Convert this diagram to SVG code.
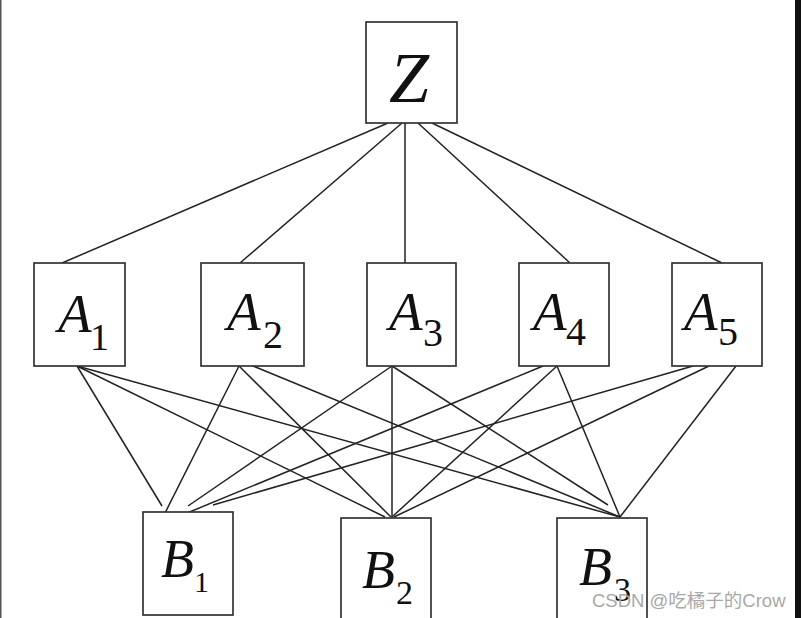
<svg xmlns="http://www.w3.org/2000/svg" width="801" height="618" viewBox="0 0 801 618">
<style>
.box{fill:#fff;stroke:#333;stroke-width:1.7}
.lbl{font-family:"Liberation Serif","Times New Roman",serif;font-style:italic;fill:#111}
.sub{font-family:"Liberation Serif","Times New Roman",serif;font-style:normal;fill:#111}
.c line{stroke:#222;stroke-width:1.5}
.wm{font-family:"Liberation Sans","Noto Sans CJK SC",sans-serif;font-size:18.5px;fill:#a8a8a8}
</style>
<rect x="0" y="0" width="801" height="618" fill="#fff"/>
<rect x="0" y="0" width="1.5" height="618" fill="#555"/>
<rect x="795" y="0" width="6" height="618" fill="#111"/>
<g id="connectors" class="c">
<line x1="388" y1="123" x2="62" y2="263"/>
<line x1="402" y1="123" x2="240" y2="263"/>
<line x1="405" y1="123" x2="405" y2="263"/>
<line x1="418" y1="123" x2="570" y2="263"/>
<line x1="432" y1="123" x2="722" y2="263"/>
<line x1="77" y1="366" x2="162" y2="506"/>
<line x1="239" y1="366" x2="163" y2="517"/>
<line x1="392" y1="366" x2="188" y2="506"/>
<line x1="543" y1="366" x2="175" y2="518"/>
<line x1="693" y1="366" x2="213" y2="505"/>
<line x1="77" y1="366" x2="385" y2="517"/>
<line x1="239" y1="366" x2="391" y2="517"/>
<line x1="392" y1="366" x2="392" y2="517"/>
<line x1="557" y1="366" x2="392" y2="517"/>
<line x1="709" y1="366" x2="394" y2="517"/>
<line x1="77" y1="366" x2="620" y2="517"/>
<line x1="253" y1="366" x2="620" y2="517"/>
<line x1="392" y1="366" x2="608" y2="505"/>
<line x1="557" y1="366" x2="620" y2="517"/>
<line x1="736" y1="366" x2="620" y2="517"/>
</g>
<g id="Z"><rect class="box" x="366" y="22" width="91" height="101"/><text class="lbl" x="389" y="102" font-size="72">Z</text></g>
<g id="A1"><rect class="box" x="34" y="263" width="91" height="103"/><text class="lbl" x="58" y="332" font-size="55">A</text><text class="sub" x="90" y="350" font-size="38">1</text></g>
<g id="A2"><rect class="box" x="201" y="263" width="103" height="103"/><text class="lbl" x="227" y="330" font-size="55">A</text><text class="sub" x="263" y="348" font-size="40">2</text></g>
<g id="A3"><rect class="box" x="367" y="263" width="89" height="103"/><text class="lbl" x="389" y="330" font-size="55">A</text><text class="sub" x="423" y="346" font-size="40">3</text></g>
<g id="A4"><rect class="box" x="519" y="263" width="90" height="103"/><text class="lbl" x="533" y="330" font-size="55">A</text><text class="sub" x="566" y="345" font-size="40">4</text></g>
<g id="A5"><rect class="box" x="672" y="263" width="90" height="103"/><text class="lbl" x="684" y="330" font-size="55">A</text><text class="sub" x="718" y="345" font-size="40">5</text></g>
<g id="B1"><rect class="box" x="143" y="512" width="90" height="103"/><text class="lbl" x="161" y="577" font-size="54">B</text><text class="sub" x="194" y="592" font-size="30">1</text></g>
<g id="B2"><rect class="box" x="341" y="518" width="90" height="110"/><text class="lbl" x="362" y="588" font-size="54">B</text><text class="sub" x="396" y="604" font-size="34">2</text></g>
<g id="B3"><rect class="box" x="557" y="518" width="90" height="110"/><text class="lbl" x="579" y="585" font-size="54">B</text><text class="sub" x="614" y="601" font-size="34">3</text></g>
<text class="wm" x="592" y="607">CSDN @吃橘子的Crow</text>
</svg>
